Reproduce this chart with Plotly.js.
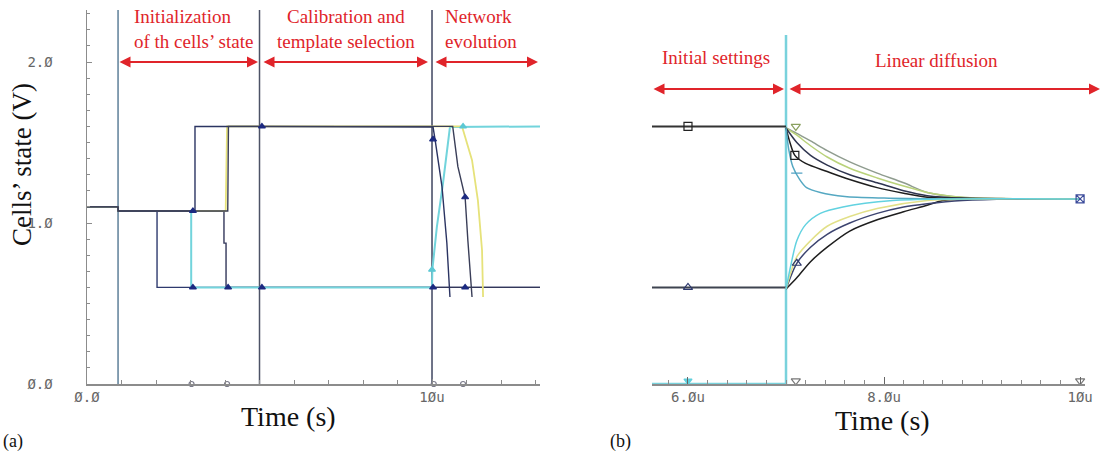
<!DOCTYPE html>
<html><head><meta charset="utf-8">
<script src="https://cdn.plot.ly/plotly-3.0.1.min.js"></script>
<style>html,body{margin:0;padding:0;background:#fff}#c{width:1106px;height:460px}</style>
</head><body><div id="c"></div>
<script>
// ---------- Panel (a): data ----------
const ctrlA_t = [0.9, 5.0, 10.0];              // control switching times (µs)
const cellA_t = [0, 0.9, 0.9, 2.03, 2.03, 13.13];
const cellA_v = [1.1, 1.1, 1.075, 1.075, 0.6, 0.6];
const cellB_t = [0, 0.9, 0.9, 3.02, 3.02, 10.0, 10.01, 10.14, 10.32, 10.52, 13.13];
const cellB_v = [1.1, 1.1, 1.075, 1.075, 0.6, 0.6, 0.71, 0.975, 1.25, 1.596, 1.6];
const cellC_t = [0, 0.9, 0.9, 3.13, 3.13, 10.0, 10.03, 10.09, 10.29, 10.43, 10.52];
const cellC_v = [1.1, 1.1, 1.075, 1.075, 1.6, 1.6, 1.596, 1.516, 1.224, 0.876, 0.54];
const cellD_t = [0, 0.9, 0.9, 4.02, 4.06, 10.87, 11.16, 11.33, 11.45, 11.48];
const cellD_v = [1.1, 1.1, 1.075, 1.075, 1.6, 1.6, 1.39, 1.14, 0.83, 0.54];
const cellE_t = [0, 0.9, 0.9, 3.97, 3.97, 4.03, 4.03, 13.13];
const cellE_v = [1.1, 1.1, 1.075, 1.075, 0.875, 0.875, 0.6, 0.6];
const cellF_t = [0, 0.9, 0.9, 4.08, 4.1, 10.6, 10.75, 10.96, 11.04, 11.16];
const cellF_v = [1.1, 1.1, 1.075, 1.075, 1.6, 1.6, 1.35, 1.16, 0.89, 0.54];
const mkA_t = [3.07, 3.07, 4.09, 5.07, 5.07, 10.03, 10.03, 10.96, 10.96];
const mkA_v = [1.075, 0.6, 0.6, 1.6, 0.6, 1.52, 0.6, 1.16, 0.6];
const mkAc_t = [10.0, 10.9];
const mkAc_v = [0.71, 1.6];
const mkAx_t = [3.03, 4.06, 10.05, 10.9];
const mkAx_v = [0, 0, 0, 0];

// ---------- Panel (b): data ----------
const ctrlB_t = [5.633, 7.0, 7.0];
const ctrlB_v = [0, 0, 2.5];
const preB_t = [5.633, 7.0];
const preHigh_v = [1.6, 1.6];
const preLow_v = [0.6, 0.6];
const d1_t = [7.0, 7.03, 7.07, 7.14, 7.21, 7.35, 7.6, 8.0, 8.6, 10.0];
const d1_v = [1.59, 1.45, 1.35, 1.27, 1.22, 1.19, 1.165, 1.155, 1.15, 1.15];
const d2_t = [7.0, 7.04, 7.09, 7.2, 7.42, 7.65, 7.93, 8.2, 8.44, 8.8, 10.0];
const d2_v = [1.59, 1.5, 1.42, 1.37, 1.32, 1.27, 1.22, 1.185, 1.16, 1.152, 1.15];
const d3_t = [7.0, 7.11, 7.25, 7.42, 7.65, 7.93, 8.2, 8.44, 8.8, 10.0];
const d3_v = [1.59, 1.5, 1.42, 1.36, 1.3, 1.25, 1.2, 1.17, 1.155, 1.15];
const d4_t = [7.0, 7.1, 7.25, 7.42, 7.65, 7.93, 8.2, 8.44, 8.8, 9.2, 10.0];
const d4_v = [1.59, 1.55, 1.48, 1.41, 1.34, 1.28, 1.23, 1.19, 1.16, 1.152, 1.15];
const d5_t = [7.0, 7.1, 7.25, 7.42, 7.65, 7.93, 8.2, 8.44, 8.78, 9.2, 10.0];
const d5_v = [1.59, 1.56, 1.51, 1.45, 1.38, 1.31, 1.25, 1.19, 1.16, 1.152, 1.15];
const r1_t = [7.0, 7.05, 7.11, 7.2, 7.35, 7.58, 8.09, 8.6, 10.0];
const r1_v = [0.59, 0.74, 0.89, 0.99, 1.06, 1.1, 1.14, 1.15, 1.15];
const r2_t = [7.0, 7.11, 7.25, 7.42, 7.65, 7.93, 8.44, 9.0, 10.0];
const r2_v = [0.59, 0.79, 0.89, 0.98, 1.04, 1.09, 1.14, 1.15, 1.15];
const r3_t = [7.0, 7.11, 7.25, 7.42, 7.65, 7.93, 8.2, 8.44, 8.8, 9.3, 10.0];
const r3_v = [0.59, 0.75, 0.85, 0.93, 1.0, 1.06, 1.1, 1.12, 1.14, 1.15, 1.15];
const r4_t = [7.0, 7.11, 7.25, 7.42, 7.65, 7.93, 8.2, 8.44, 8.6, 9.0, 10.0];
const r4_v = [0.59, 0.66, 0.76, 0.85, 0.95, 1.02, 1.07, 1.11, 1.14, 1.15, 1.15];

const xTicksA = [0, 10], xTextA = ['Ø.Ø', '1Øu'];
const yTicksA = [0, 1, 2], yTextA = ['Ø.Ø', '1.Ø', '2.Ø'];
const xTicksB = [6, 8, 10], xTextB = ['6.Øu', '8.Øu', '1Øu'];

// ---------- traces ----------
const W = 1106, H = 460;
const traces = [];
function ln(x, y, color, width, ax, shape) {
  traces.push({x: x, y: y, type: 'scatter', mode: 'lines', xaxis: ax[0], yaxis: ax[1],
    line: {color: color, width: width, shape: shape || 'linear', smoothing: 0.8},
    hoverinfo: 'skip', showlegend: false});
}
function mk(x, y, sym, color, size, ax) {
  traces.push({x: x, y: y, type: 'scatter', mode: 'markers', xaxis: ax[0], yaxis: ax[1],
    marker: {symbol: sym, color: color, size: size, line: {color: color, width: 1.2}},
    hoverinfo: 'skip', showlegend: false, cliponaxis: false});
}
const A = ['x', 'y'], B = ['x2', 'y2'];
const ctrlColA = ['#5d7f99', '#4d5366', '#3f4560'];
ctrlA_t.forEach((t, i) => ln([t, t], [0, 2.5], ctrlColA[i], 1.5, A));
ln(cellA_t, cellA_v, '#2e3a6e', 1.4, A);
ln(cellE_t, cellE_v, '#33375a', 1.4, A);
ln(cellB_t, cellB_v, '#72d4dc', 2, A);
ln(cellD_t, cellD_v, '#e6e27a', 1.8, A);
ln(cellC_t, cellC_v, '#2b3462', 1.4, A);
ln(cellF_t, cellF_v, '#3a3e58', 1.4, A);
mk(mkA_t, mkA_v, 'triangle-up', '#1c2a80', 6, A);
mk(mkAc_t, mkAc_v, 'triangle-up', '#5cc8d4', 6, A);
mk(mkAx_t, mkAx_v, 'circle-open', '#7a7a8a', 5, A);

ln(ctrlB_t, ctrlB_v, '#79d2dc', 2.5, B);
ln(preB_t, preHigh_v, '#333333', 2, B);
ln(preB_t, preLow_v, '#3f4450', 2, B);
ln(d5_t, d5_v, '#8f9c8f', 1.5, B, 'spline');
ln(d4_t, d4_v, '#b9d27a', 1.5, B, 'spline');
ln(d3_t, d3_v, '#2f3550', 1.5, B, 'spline');
ln(d2_t, d2_v, '#1e1e1e', 1.5, B, 'spline');
ln(d1_t, d1_v, '#55a8c2', 1.5, B, 'spline');
ln(r4_t, r4_v, '#1e1e1e', 1.5, B, 'spline');
ln(r3_t, r3_v, '#3c4470', 1.5, B, 'spline');
ln(r2_t, r2_v, '#e2e088', 1.5, B, 'spline');
ln(r1_t, r1_v, '#62d2e0', 1.5, B, 'spline');
mk([6.0, 7.09], [1.6, 1.42], 'square-open', '#222', 8, B);
mk([10.0], [1.15], 'square-x-open', '#3a4a9a', 8, B);
mk([6.0, 7.11], [0.6, 0.75], 'triangle-up-open', '#2e3a6e', 8, B);
mk([7.1], [1.6], 'triangle-down-open', '#8aa060', 8, B);
mk([7.1, 10.0], [0.02, 0.02], 'triangle-down-open', '#777', 8, B);
mk([6.0], [0.02], 'triangle-down', '#5fcfdc', 7, B);
mk([7.11], [1.31], 'line-ew-open', '#4a9ec0', 8, B);

// ---------- layout ----------
const py = v => 1 - v / H, px = v => v / W;
const tickFont = {family: 'DejaVu Sans Mono', size: 14, color: '#666'};
const serif = 'Liberation Serif, Times New Roman, serif';
const red = '#e0242a';
const ann = [];
function txt(text, x, y, size, color, xanchor, align, angle) {
  ann.push({text: text, x: px(x), y: py(y), xref: 'paper', yref: 'paper', showarrow: false,
    xanchor: xanchor || 'center', yanchor: 'middle', align: align || 'center',
    textangle: angle || 0, font: {family: serif, size: size, color: color}});
}
function arrow(x0, x1, y) {
  ann.push({text: '', x: px(x1), y: py(y), xref: 'paper', yref: 'paper',
    axref: 'pixel', ayref: 'pixel', ax: -(x1 - x0), ay: 0, showarrow: true,
    arrowside: 'end+start', arrowhead: 2, startarrowhead: 2, arrowsize: 1.1, startarrowsize: 1.1,
    arrowwidth: 2, arrowcolor: red, standoff: 0, startstandoff: 0});
}
txt('Initialization<br>of th cells’ state', 132, 29, 19, red, 'left', 'left');
txt('Calibration and<br>template selection', 346, 29, 19, red, 'center', 'center');
txt('Network<br>evolution', 443, 29, 19, red, 'left', 'left');
txt('Initial settings', 716, 58, 19, red);
txt('Linear diffusion', 937, 60, 19, red);
arrow(118, 258, 62); arrow(262, 428, 62); arrow(434, 538, 62);
arrow(652, 784, 89); arrow(788, 1100, 89);
txt('Cells’ state (V)', 22, 165, 27, '#111', 'center', 'center', -90);
txt('Time (s)', 288, 416, 28, '#111');
txt('Time (s)', 882, 420, 28, '#111');
txt('(a)', 13, 441, 18, '#111');
txt('(b)', 620, 441, 18, '#111');

const axCol = '#8c8c8c';
const layout = {
  width: W, height: H, margin: {l: 0, r: 0, t: 0, b: 0},
  paper_bgcolor: '#ffffff', plot_bgcolor: '#ffffff', showlegend: false,
  xaxis: {domain: [px(87), px(540)], range: [0, 13.13], anchor: 'y', showgrid: false, zeroline: false,
    showline: true, linecolor: axCol, linewidth: 1.5, ticks: 'inside', ticklen: 5, tickcolor: axCol,
    tickvals: xTicksA, ticktext: xTextA, tickfont: tickFont, ticklabelstandoff: 0,
    minor: {dtick: 1, tick0: 0, ticks: 'inside', ticklen: 4, tickcolor: axCol, showgrid: false}},
  yaxis: {domain: [py(384), py(10)], range: [0, 2.323], anchor: 'x', showgrid: false, zeroline: false,
    showline: true, linecolor: axCol, linewidth: 1.5, ticks: 'inside', ticklen: 5, tickcolor: axCol,
    tickvals: yTicksA, ticktext: yTextA, tickfont: tickFont, ticklabelstandoff: 30,
    minor: {dtick: 0.1, tick0: 0, ticks: 'inside', ticklen: 3, tickcolor: axCol, showgrid: false}},
  xaxis2: {domain: [px(652), px(1085)], range: [5.633, 10.05], anchor: 'y2', showgrid: false, zeroline: false,
    showline: true, linecolor: axCol, linewidth: 1.5, ticks: 'inside', ticklen: 7, tickcolor: '#666',
    tickvals: xTicksB, ticktext: xTextB, tickfont: tickFont, ticklabelstandoff: 0,
    minor: {dtick: 0.2, tick0: 6, ticks: 'inside', ticklen: 4, tickcolor: axCol, showgrid: false}},
  yaxis2: {domain: [py(384), py(35)], range: [0, 2.168], anchor: 'x2', showgrid: false, zeroline: false,
    showline: false, ticks: '', showticklabels: false},
  annotations: ann
};
Plotly.newPlot('c', traces, layout, {staticPlot: true, displayModeBar: false});
</script></body></html>
